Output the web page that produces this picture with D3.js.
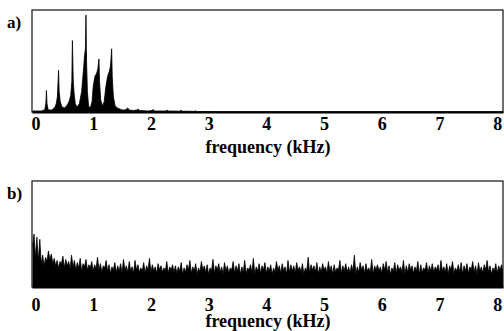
<!DOCTYPE html>
<html><head><meta charset="utf-8">
<script src="https://cdn.jsdelivr.net/npm/d3@7"></script>
<style>body{margin:0;background:#fff}svg{display:block}</style>
</head><body>
<svg id="c" width="504" height="331"></svg>
<script>
// ---- data ----
const tickLabels = [0,1,2,3,4,5,6,7,8];
const axisTitle = "frequency (kHz)";
const panelLabels = ["a)", "b)"];

// panel a: harmonic spectrum, frequency (kHz) and relative amplitude (%)
const aFreq = [-0.05,0.00,0.10,0.16,0.18,0.19,0.20,0.22,0.28,0.33,0.36,0.38,0.40,0.41,0.43,0.46,0.50,0.54,0.58,0.61,0.63,0.64,0.655,0.67,0.69,0.72,0.76,0.80,0.83,0.85,0.865,0.875,0.885,0.90,0.92,0.95,0.98,1.00,1.03,1.06,1.08,1.10,1.11,1.13,1.16,1.19,1.22,1.25,1.28,1.30,1.32,1.33,1.35,1.38,1.42,1.46,1.50,1.55,1.58,1.60,1.62,1.70,1.76,1.78,1.80,1.95,2.02,2.04,2.06,2.26,2.28,2.30,2.50,2.52,2.54,2.75,2.77,2.79,3.20,4.00,5.00,6.00,7.00,8.10];
const aAmp  = [1,1,1,2,8,21,8,2,2,4,8,15,41,20,10,5,4,6,10,16,30,70,30,18,8,5,8,20,40,55,62,95,50,20,6,4,10,25,35,38,42,52,30,12,6,10,25,35,40,45,62,35,15,6,4,3,2,2,3,4,2,1.5,2,3,1.5,1,1.5,2.5,1,1,2,1,0.8,1.8,0.8,0.6,1.2,0.5,0.3,0.3,0.3,0.3,0.3,0.3];

// panel b: noise spectrum, one value every 0.025 kHz starting at -0.05 kHz (%)
const bStart = -0.05, bStep = 0.025;
const bAmp = [
38,50,28,47,24,45,22,30,20,28,24,34,26,31,22,27,20,25,18,24,
22,29,18,26,20,24,17,30,19,25,16,23,18,27,15,22,19,26,16,21,
18,24,15,21,17,28,16,22,14,20,18,25,15,21,13,19,16,23,14,20,
15,22,13,26,16,20,14,24,15,19,13,25,16,21,14,18,15,23,13,20,
16,27,14,21,15,19,13,22,16,20,14,18,15,24,13,19,16,21,14,20,
13,19,15,23,12,18,14,21,16,25,13,19,15,22,12,18,14,24,16,20,
14,21,12,18,15,26,13,20,16,22,14,19,12,23,15,20,13,18,16,24,
13,20,15,22,12,19,14,25,13,18,16,21,14,27,12,19,15,22,13,20,
16,23,13,19,15,21,12,18,14,24,16,20,13,22,15,19,12,25,14,21,
15,20,13,23,16,19,14,22,12,18,15,28,13,21,16,20,14,23,12,19,
14,22,16,19,13,24,15,20,12,21,14,18,16,25,13,20,15,22,14,19,
13,21,15,30,12,19,14,23,16,20,13,22,15,18,14,26,12,20,16,21,
15,19,13,22,16,24,14,20,12,18,15,23,13,21,16,19,14,25,12,20,
14,22,16,20,13,19,15,24,12,21,14,18,16,23,13,20,15,22,14,19,
16,21,13,25,15,19,14,22,12,20,16,24,13,18,15,21,14,23,12,20,
15,22,13,19,16,24,14,20,12,23,15,19,13,21,16,25,14,20,12,18,
15,22,13,20,16,21,14];

// ---- drawing ----
const svg = d3.select("#c");
const x = d3.scaleLinear().domain([-0.06, 8.1]).range([32, 503]);

const panels = [
  {top:10, bottom:112, data: aFreq.map((f,i)=>[f, aAmp[i]]), label: panelLabels[0], labelY:28, tickY:129.5, titleY:153},
  {top:181, bottom:287, data: bAmp.map((v,i)=>[bStart + i*bStep, v]), label: panelLabels[1], labelY:199, tickY:311, titleY:327}
];

function styleText(sel, size) {
  sel.attr("font-family", null)
     .style("font-family", '"Liberation Serif"')
     .style("font-weight", "bold")
     .style("font-size", size + "px")
     .attr("fill", "#000");
}

panels.forEach(p => {
  const y = d3.scaleLinear().domain([0,100]).range([p.bottom, p.top]);
  const area = d3.area().x(d=>x(d[0])).y0(y(0)).y1(d=>y(d[1]));
  const line = d3.line().x(d=>x(d[0])).y(d=>y(d[1]));
  const clipId = "clip" + p.top;
  svg.append("clipPath").attr("id", clipId).append("rect")
    .attr("x", x(-0.06)).attr("y", p.top).attr("width", x(8.1)-x(-0.06)).attr("height", p.bottom-p.top);
  const g = svg.append("g").attr("clip-path", `url(#${clipId})`);
  g.append("path").datum(p.data).attr("d", area).attr("fill", "#000");
  g.append("path").datum(p.data).attr("d", line).attr("fill", "none").attr("stroke", "#000").attr("stroke-width", 0.8);

  svg.append("rect").attr("x", x(-0.06)).attr("y", p.top)
    .attr("width", x(8.1)-x(-0.06)).attr("height", p.bottom-p.top)
    .attr("fill", "none").attr("stroke", "#111").attr("stroke-width", 1.2);

  const ax = svg.append("g").attr("transform", `translate(0,${p.bottom})`)
    .call(d3.axisBottom(x).tickValues(tickLabels).tickSize(0).tickFormat(d3.format("d")));
  ax.attr("font-family", null).attr("font-size", null);
  ax.select(".domain").attr("stroke", "#000").attr("stroke-width", 1.8);
  const tl = ax.selectAll("text").attr("dy", null).attr("y", p.tickY - p.bottom);
  styleText(tl, 18);

  styleText(svg.append("text").attr("x", 268).attr("y", p.titleY).attr("text-anchor", "middle").text(axisTitle), 18);
  styleText(svg.append("text").attr("x", 7).attr("y", p.labelY).text(p.label), 17);
});
</script>
</body></html>
